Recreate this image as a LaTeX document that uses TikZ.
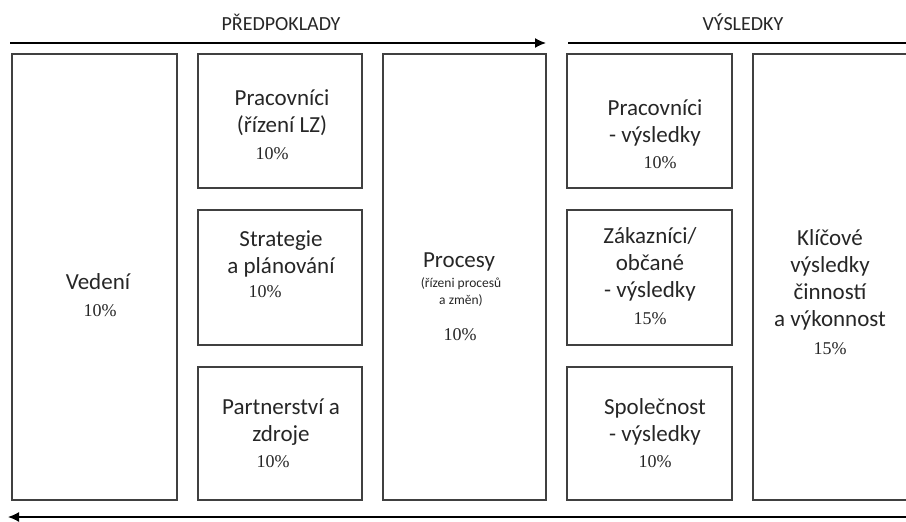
\documentclass[tikz,border=0pt]{standalone}
\usepackage{fontspec}
\setmainfont{Carlito}
\newfontfamily\pctfont{Liberation Serif}
\usetikzlibrary{arrows.meta}

\begin{document}
\begin{tikzpicture}[x=1pt,y=-1pt,>={Latex[length=11pt,width=10pt]},
  box/.style={draw=black!75,line width=1.3pt,inner sep=0pt},
  lbl/.style={align=center,font=\fontsize{23}{27}\selectfont,text=black!85},
  small/.style={align=center,font=\fontsize{13.5}{17}\selectfont,text=black!85},
  pct/.style={font=\pctfont\fontsize{18}{20}\selectfont,text=black!85},
  head/.style={font=\fontsize{20}{22}\selectfont,text=black!85}]

\clip (0,0) rectangle (906,522);

% arrows
\coordinate (predA) at (10,43);
\coordinate (predB) at (546,43);
\coordinate (vysA) at (568,43);
\coordinate (vysB) at (918,43);
\coordinate (backA) at (920,517);
\coordinate (backB) at (8,517);

\draw [->,line width=1.4pt] (predA) -- (predB);
\draw [->,line width=1.4pt] (vysA) -- (vysB);
\draw [->,line width=1.4pt] (backA) -- (backB);

\node [head] (tPred) at (281,22) {PŘEDPOKLADY};
\node [head] (tVys) at (743,22) {VÝSLEDKY};

% boxes
\node [box,minimum width=165,minimum height=446] (vedeni) at (94.5,277) {};
\node [box,minimum width=164,minimum height=134] (prac) at (280,121) {};
\node [box,minimum width=164,minimum height=135] (strat) at (280,277.5) {};
\node [box,minimum width=164,minimum height=133] (partn) at (280,433.5) {};
\node [box,minimum width=163,minimum height=446] (proc) at (464.5,277) {};
\node [box,minimum width=165,minimum height=134] (pracV) at (649.5,121) {};
\node [box,minimum width=165,minimum height=135] (zak) at (649.5,277.5) {};
\node [box,minimum width=165,minimum height=133] (spol) at (649.5,433.5) {};
\node [box,minimum width=180,minimum height=446] (klic) at (843,277) {};

% texts
\node [lbl] (tVedeni) at (98,282) {Vedení};
\node [pct] (pVedeni) at (100,311) {10\%};

\node [lbl] (tPrac) at (282,113) {Pracovníci\\(řízení LZ)};
\node [pct] (pPrac) at (272,154) {10\%};

\node [lbl] (tStrat) at (281,254) {Strategie\\a plánování};
\node [pct] (pStrat) at (265,292) {10\%};

\node [lbl] (tPartn) at (281,422) {Partnerství a\\zdroje};
\node [pct] (pPartn) at (273,462) {10\%};

\node [lbl] (tProc) at (459,262) {Procesy};
\node [small] (sProc) at (461,292) {(řízeni procesů\\a změn)};
\node [pct] (pProc) at (460,335) {10\%};

\node [lbl] (tPracV) at (655,123) {Pracovníci\\- výsledky};
\node [pct] (pPracV) at (660,163) {10\%};

\node [lbl] (tZak) at (650,264) {Zákazníci/\\občané\\- výsledky};
\node [pct] (pZak) at (650,319) {15\%};

\node [lbl] (tKlic) at (830,280) {Klíčové\\výsledky\\činností\\a výkonnost};
\node [pct] (pKlic) at (830,349) {15\%};

\node [lbl] (tSpol) at (655,422) {Společnost\\- výsledky};
\node [pct] (pSpol) at (655,462) {10\%};

\end{tikzpicture}
\end{document}
